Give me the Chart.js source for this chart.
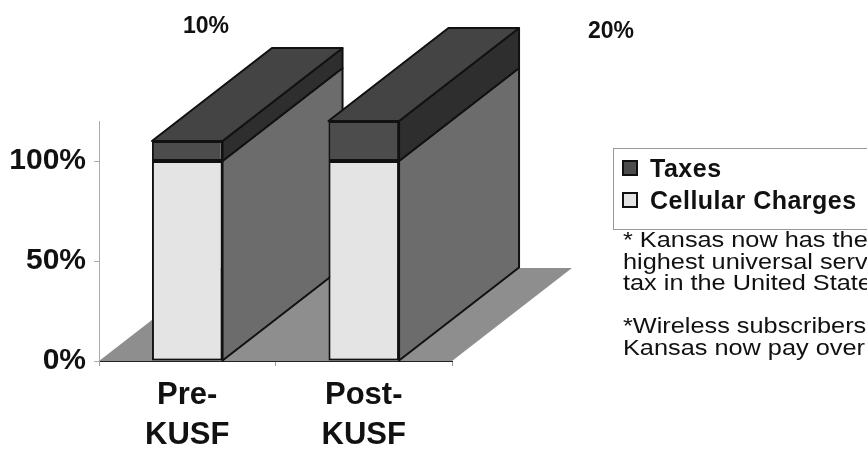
<!DOCTYPE html>
<html>
<head>
<meta charset="utf-8">
<script src="https://cdn.jsdelivr.net/npm/chart.js@4/dist/chart.umd.min.js"></script>
<style>
  body { margin: 0; background: #fff; }
  #wrap { position: relative; width: 867px; height: 452px; overflow: hidden; font-family: Arial, "Liberation Sans", sans-serif; }
  #chart { position: absolute; left: 0; top: 0; }
  .toplabel { position: absolute; font-weight: bold; font-size: 23px; line-height: 23px; color: #111; transform: translateX(-50%); }
  #legend { position: absolute; left: 613px; top: 148px; width: 300px; height: 80px; border: 1px solid #999; }
  .item { position: absolute; left: 8px; font-weight: bold; font-size: 25px; line-height: 25px; letter-spacing: 0.5px; color: #111; white-space: nowrap; }
  .item span { display: inline-block; width: 12px; height: 12px; border: 2px solid #111; margin-right: 12px; vertical-align: 1px; }
  #notes { position: absolute; left: 623px; top: 229px; font-size: 22px; line-height: 21.5px; color: #111; white-space: nowrap; transform: scaleX(1.15); transform-origin: 0 0; }
</style>
</head>
<body>
<div id="wrap">
  <canvas id="chart" width="867" height="452"></canvas>
  <div id="legend"></div>
  <div id="notes"></div>
</div>
<script>

const categories = [['Pre-', 'KUSF'], ['Post-', 'KUSF']];
const cellularCharges = [100, 100];
const taxes = [10, 20];
const yTicks = [0, 50, 100];
const notes = [
    '* Kansas now has the',
    'highest universal service',
    'tax in the United States',
    '',
    '*Wireless subscribers',
    'Kansas now pay over'
];

// front / side / top shades of the old 3d look
const frontColors = ['#e4e4e4', '#4c4c4c'];
const sideColors = ['#6c6c6c', '#2e2e2e'];
const topColor = '#444444';
const floorColor = '#8e8e8e';
const depthX = 120;
const depthY = -93;

function poly(ctx, pts){
    ctx.beginPath();
    ctx.moveTo(pts[0][0], pts[0][1]);
    for (let i = 1; i < pts.length; i++) ctx.lineTo(pts[i][0], pts[i][1]);
    ctx.closePath();
}

const bars3d = {
    id: 'bars3d',
    beforeDatasetsDraw(chart){
        const ctx = chart.ctx;
        const a = chart.chartArea;
        ctx.save();
        ctx.lineJoin = 'round';

        // floor
        ctx.fillStyle = floorColor;
        poly(ctx, [[a.left, a.bottom], [a.right, a.bottom], [a.right + depthX, a.bottom + depthY], [a.left + depthX, a.bottom + depthY]]);
        ctx.fill();

        const metas = chart.data.datasets.map((d, i) => chart.getDatasetMeta(i));
        chart.data.labels.forEach((lab, i) => {
            metas.forEach((meta, k) => {
                const el = meta.data[i];
                const p = el.getProps(['x', 'y', 'base', 'width'], true);
                const xr = p.x + p.width / 2;
                ctx.fillStyle = sideColors[k];
                poly(ctx, [[xr, p.base], [xr, p.y], [xr + depthX, p.y + depthY], [xr + depthX, p.base + depthY]]);
                ctx.fill();
                ctx.strokeStyle = '#111';
                ctx.lineWidth = 2;
                ctx.stroke();
            });
            const top = metas[metas.length - 1].data[i].getProps(['x', 'y', 'width'], true);
            const xl = top.x - top.width / 2, xr = top.x + top.width / 2;
            ctx.fillStyle = topColor;
            poly(ctx, [[xl, top.y], [xr, top.y], [xr + depthX, top.y + depthY], [xl + depthX, top.y + depthY]]);
            ctx.fill();
            ctx.stroke();
        });
        ctx.restore();
    }
};

const chart = new Chart(document.getElementById('chart'), {
    type: 'bar',
    data: {
        labels: categories,
        datasets: [{
            label: 'Cellular Charges',
            data: cellularCharges,
            backgroundColor: frontColors[0],
            borderColor: '#111',
            borderWidth: 2,
            borderSkipped: false
        }, {
            label: 'Taxes',
            data: taxes,
            backgroundColor: frontColors[1],
            borderColor: '#111',
            borderWidth: 2,
            borderSkipped: false
        }]
    },
    options: {
        responsive: false,
        animation: false,
        events: [],
        layout: { padding: { top: 121, right: 415, left: 0, bottom: 0 } },
        datasets: { bar: { barPercentage: 0.4, categoryPercentage: 1 } },
        plugins: { legend: { display: false }, tooltip: { enabled: false } },
        scales: {
            x: {
                stacked: true,
                z: 1,
                border: { color: '#222', width: 1 },
                grid: { drawOnChartArea: false, offset: true, tickLength: 5, color: '#999' },
                ticks: {
                    color: '#111',
                    padding: 9,
                    font: { family: 'Arial', weight: 'bold', size: 31, lineHeight: 1.3 }
                },
                afterFit(scale){ scale.height = 91; }
            },
            y: {
                stacked: true,
                min: 0,
                max: 120,
                border: { color: '#aaa', width: 1 },
                grid: { drawOnChartArea: false, tickLength: 5, color: '#aaa' },
                afterBuildTicks(scale){ scale.ticks = yTicks.map(v => ({ value: v })); },
                ticks: {
                    color: '#111',
                    padding: 8,
                    callback: v => v + '%',
                    font: { family: 'Arial', weight: 'bold', size: 30 }
                },
                afterFit(scale){ scale.width = 99; }
            }
        }
    },
    plugins: [bars3d]
});

// value labels for the taxes
const wrap = document.getElementById('wrap');
const labelPos = [[206, 14], [611, 19]];
taxes.forEach((v, i) => {
    const d = document.createElement('div');
    d.className = 'toplabel';
    d.style.left = labelPos[i][0] + 'px';
    d.style.top = labelPos[i][1] + 'px';
    d.textContent = v + '%';
    wrap.appendChild(d);
});

// legend, taxes listed first
const legend = document.getElementById('legend');
chart.data.datasets.slice().reverse().forEach((ds, i) => {
    const d = document.createElement('div');
    d.className = 'item';
    d.style.top = (7 + i * 32) + 'px';
    const sw = document.createElement('span');
    sw.style.background = ds.backgroundColor;
    d.appendChild(sw);
    d.appendChild(document.createTextNode(ds.label));
    legend.appendChild(d);
});

document.getElementById('notes').innerHTML = notes.map(t => t === '' ? '&nbsp;' : t).join('<br>');
</script>
</body>
</html>
